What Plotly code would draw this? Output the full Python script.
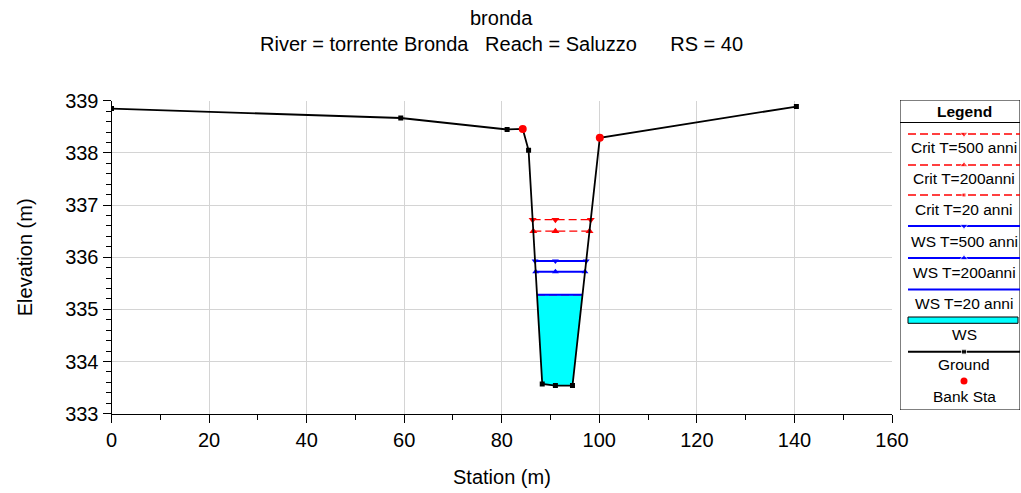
import numpy as np
import plotly.graph_objects as go

# ---------------- data ----------------
station = [0.0, 59.3, 81.1, 84.3, 85.5, 88.3, 91.0, 94.5, 100.1, 140.4]
ground = [338.85, 338.67, 338.45, 338.46, 338.05, 333.57, 333.54, 333.54, 338.29, 338.89]
bank_sta = [84.3, 100.1]
bank_elev = [338.46, 338.29]

ws_names = ["WS T=500 anni", "WS T=200anni", "WS T=20 anni"]
ws_levels = [335.93, 335.72, 335.28]
crit_names = ["Crit T=500 anni", "Crit T=200anni", "Crit T=20 anni"]
crit_levels = [336.72, 336.50, 335.28]

x_ticks = [0, 20, 40, 60, 80, 100, 120, 140, 160]
y_ticks = [333, 334, 335, 336, 337, 338, 339]

title_1 = "bronda"
title_2 = "River = torrente Bronda\u00a0\u00a0\u00a0Reach = Saluzzo\u00a0\u00a0\u00a0\u00a0\u00a0\u00a0RS = 40"

st = np.array(station)
gr = np.array(ground)


def crossings(level):
    imin = int(np.argmin(gr))
    i = imin
    while gr[i] < level:
        i -= 1
    xl = np.interp(level, [gr[i + 1], gr[i]], [st[i + 1], st[i]])
    j = imin
    while gr[j] < level:
        j += 1
    xr = np.interp(level, [gr[j - 1], gr[j]], [st[j - 1], st[j]])
    return xl, xr, i, j


FONT = "Liberation Sans, Arial, sans-serif"
W, H = 1021, 493
ML, MR, MT, MB = 110, 0, 98, 78
PW, PH = W - ML - MR, H - MT - MB


def dx(p):
    return (p - ML) / PW


def dy(p):
    return (H - MB - p) / PH


fig = go.Figure()

# water fill for lowest WS
lev = ws_levels[2]
xl, xr, i, j = crossings(lev)
fx = [xl] + list(st[i + 1:j]) + [xr, xl]
fy = [lev] + list(gr[i + 1:j]) + [lev, lev]
fig.add_trace(go.Scatter(x=fx, y=fy, mode="lines", fill="toself",
                         fillcolor="#00FFFF", line=dict(width=0, color="#00FFFF"),
                         hoverinfo="skip", showlegend=False))

thal = st[int(np.argmin(gr))]
crit_sym = ["triangle-down", "triangle-up", None]
for name, lev, sym in zip(crit_names, crit_levels, crit_sym):
    xl, xr, _, _ = crossings(lev)
    if sym:
        fig.add_trace(go.Scatter(x=[xl, thal, xr], y=[lev, lev, lev], mode="lines+markers",
                                 line=dict(color="#FF0000", width=1.2, dash="8px,4px"),
                                 marker=dict(symbol=sym, size=7, color="#FF0000"),
                                 name=name, showlegend=False))
    else:
        fig.add_trace(go.Scatter(x=[xl, xr], y=[lev, lev], mode="lines",
                                 line=dict(color="#FF0000", width=1.2, dash="8px,4px"),
                                 name=name, showlegend=False))

ws_sym = ["triangle-down", "triangle-up", None]
for name, lev, sym in zip(ws_names, ws_levels, ws_sym):
    xl, xr, _, _ = crossings(lev)
    if sym:
        fig.add_trace(go.Scatter(x=[xl, thal, xr], y=[lev, lev, lev], mode="lines+markers",
                                 line=dict(color="#0000FF", width=2),
                                 marker=dict(symbol=sym, size=6, color="#0000FF"),
                                 name=name, showlegend=False))
    else:
        fig.add_trace(go.Scatter(x=[xl, xr], y=[lev, lev], mode="lines",
                                 line=dict(color="#0000FF", width=2),
                                 name=name, showlegend=False))

fig.add_trace(go.Scatter(x=station, y=ground, mode="lines+markers",
                         line=dict(color="black", width=1.8),
                         marker=dict(symbol="square", size=5, color="black"),
                         name="Ground", showlegend=False))
fig.add_trace(go.Scatter(x=bank_sta, y=bank_elev, mode="markers",
                         marker=dict(symbol="circle", size=8, color="#FF0000"),
                         name="Bank Sta", showlegend=False))

# ---------------- custom legend (axes x2/y2 in pixel units) ----------------
LX0, LX1, LY0, LY1 = 900, 1020, 100, 410
cx = 964
leg = [
    ("Crit T=500 anni", 134.0, 147.5, "crit", "triangle-down"),
    ("Crit T=200anni", 165.0, 178.0, "crit", "triangle-up"),
    ("Crit T=20 anni", 195.0, 209.0, "crit", "square"),
    ("WS T=500 anni", 226.0, 241.0, "ws", "triangle-down"),
    ("WS T=200anni", 258.0, 272.5, "ws", "triangle-up"),
    ("WS T=20 anni", 289.5, 303.5, "ws", None),
    ("WS", 320.0, 334.5, "fill", None),
    ("Ground", 351.7, 364.5, "ground", "square"),
    ("Bank Sta", 381.0, 396.7, "bank", "circle"),
]
shapes = [dict(type="rect", xref="x2", yref="y2", x0=LX0, x1=LX1, y0=LY0, y1=LY1,
               line=dict(color="black", width=1), fillcolor="rgba(0,0,0,0)", layer="below"),
          dict(type="line", xref="x2", yref="y2", x0=LX0, x1=LX1, y0=122.5, y1=122.5,
               line=dict(color="black", width=1))]
annotations = [dict(xref="x2", yref="y2", x=cx, y=112, text="<b>Legend</b>", showarrow=False,
                    font=dict(family=FONT, size=15.5, color="black"))]
for name, ly, ty, kind, sym in leg:
    if kind in ("crit", "ws", "ground"):
        col = {"crit": "#FF0000", "ws": "#0000FF", "ground": "black"}[kind]
        dash = "8px,4px" if kind == "crit" else "solid"
        wid = 1.3 if kind == "crit" else 2
        msize = 0 if sym is None else (4 if (kind == "crit" and sym == "square") else 7)
        if kind == "ground":
            msize = 5
        fig.add_trace(go.Scatter(x=[908, cx, LX1], y=[ly, ly, ly], xaxis="x2", yaxis="y2",
                                 mode="lines+markers",
                                 line=dict(color=col, width=wid, dash=dash),
                                 marker=dict(symbol=sym or "circle", size=[0, msize, 0], color=col),
                                 hoverinfo="skip", showlegend=False))
    elif kind == "fill":
        shapes.append(dict(type="rect", xref="x2", yref="y2", x0=908, x1=1018, y0=317, y1=323.3,
                           line=dict(color="black", width=1), fillcolor="#00FFFF"))
    elif kind == "bank":
        fig.add_trace(go.Scatter(x=[cx], y=[ly], xaxis="x2", yaxis="y2", mode="markers",
                                 marker=dict(symbol="circle", size=7, color="#FF0000"),
                                 hoverinfo="skip", showlegend=False))
    annotations.append(dict(xref="x2", yref="y2", x=cx, y=ty, text=name, showarrow=False,
                            font=dict(family=FONT, size=15.5, color="black")))

# titles
annotations += [
    dict(xref="x domain", yref="paper", x=0.5, y=dy(18), text=title_1, showarrow=False,
         font=dict(family=FONT, size=20, color="black"), yanchor="middle"),
    dict(xref="x domain", yref="paper", x=0.5, y=dy(44), text=title_2, showarrow=False,
         font=dict(family=FONT, size=20, color="black"), yanchor="middle"),
    dict(xref="x domain", yref="paper", x=0.5, y=dy(477), text="Station (m)", showarrow=False,
         font=dict(family=FONT, size=20, color="black"), yanchor="middle"),
    dict(xref="paper", yref="y domain", x=dx(25), y=0.5, text="Elevation (m)", showarrow=False,
         textangle=-90, font=dict(family=FONT, size=20, color="black"), xanchor="center"),
]

axis_common = dict(showline=True, linecolor="black", linewidth=1, ticks="outside",
                   tickcolor="black", ticklen=8, tickwidth=1, showgrid=True,
                   gridcolor="#D4D4D4", gridwidth=1, zeroline=False,
                   tickfont=dict(family=FONT, size=20, color="black"))

fig.update_layout(
    width=W, height=H, autosize=False, margin=dict(l=ML, r=MR, t=MT, b=MB, autoexpand=False),
    paper_bgcolor="white", plot_bgcolor="white", showlegend=False,
    xaxis=dict(range=[0, 160], tickvals=x_ticks, domain=[dx(111.5), dx(892)],
               minor=dict(dtick=10, ticks="outside", ticklen=5, tickcolor="black", showgrid=False),
               **axis_common),
    yaxis=dict(range=[333, 339], tickvals=y_ticks, domain=[dy(413.7), dy(100.8)],
               minor=dict(dtick=0.2, ticks="outside", ticklen=5, tickcolor="black", showgrid=False),
               **axis_common),
    xaxis2=dict(range=[LX0, LX1], domain=[dx(LX0), dx(LX1)], visible=False, anchor="y2",
                fixedrange=True),
    yaxis2=dict(range=[LY1, LY0], domain=[dy(LY1), dy(LY0)], visible=False, anchor="x2",
                fixedrange=True),
    shapes=shapes, annotations=annotations,
)

fig.write_html("out.html", config={"responsive": False, "displayModeBar": False})
